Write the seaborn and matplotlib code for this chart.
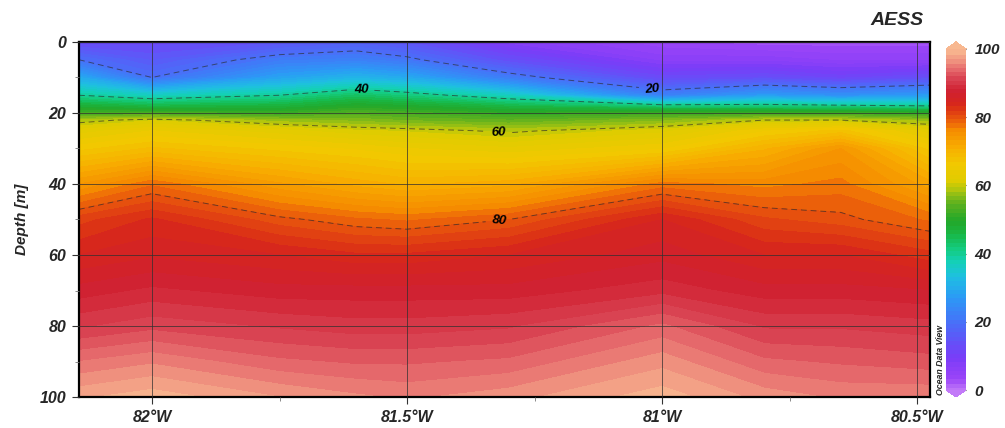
import numpy as np
import pandas as pd
import matplotlib
matplotlib.use("Agg")
import matplotlib.pyplot as plt
import seaborn as sns
from matplotlib.colors import LinearSegmentedColormap
from matplotlib.ticker import MultipleLocator, FixedLocator

# ---------------- data ----------------
lons = [-82.143, -82.0, -81.75, -81.6, -81.5, -81.3, -81.0, -80.8, -80.65, -80.475]
depths = [0, 5, 10, 15, 18, 20, 22, 25, 30, 40, 50, 60, 70, 80, 90, 100]
aess_d000 = [13, 13, 15, 17, 15, 8, 4, 3, 3, 3]
aess_d005 = [20, 16, 22, 23, 21, 14, 7, 7, 6, 6]
aess_d010 = [30, 20, 29, 32, 30, 22, 13, 14, 12, 14]
aess_d015 = [40, 37, 40, 44, 42, 37, 23, 28, 26, 28]
aess_d018 = [48, 46, 47, 50, 49, 46, 42, 42, 41, 40]
aess_d020 = [53, 53, 52, 54, 53, 51, 52, 52, 52, 51]
aess_d022 = [59, 61, 58, 57, 56, 55, 57, 60, 60, 58]
aess_d025 = [63, 65, 63, 61.5, 61, 59.5, 62, 66, 68, 63]
aess_d030 = [67, 69, 67, 66, 65, 64, 66, 71, 75, 67]
aess_d040 = [75, 78.5, 74, 72, 71, 72, 78, 77, 78, 73]
aess_d050 = [82, 84, 80.5, 79, 78.5, 80, 85, 81.5, 80.5, 78.5]
aess_d060 = [85, 86, 85, 84, 84, 85, 87, 85, 85, 83]
aess_d070 = [88, 89, 88, 88, 88, 88, 89.5, 88, 88, 87.5]
aess_d080 = [91, 92, 91, 90.5, 90.5, 91, 94, 91, 91, 90.5]
aess_d090 = [95, 96, 94, 93.5, 93.5, 94, 97, 94, 93.5, 93]
aess_d100 = [98.5, 99.5, 97.5, 96.5, 96, 97, 99.5, 97, 96, 96]
rows = [aess_d000, aess_d005, aess_d010, aess_d015, aess_d018, aess_d020,
        aess_d022, aess_d025, aess_d030, aess_d040, aess_d050, aess_d060,
        aess_d070, aess_d080, aess_d090, aess_d100]

contour_levels = [20, 40, 60, 80]
label_spots = [(-81.02, 13.8), (-81.59, 13.0), (-81.32, 25.4), (-81.32, 50.0)]
xticks = [-82.0, -81.5, -81.0, -80.5]
xticklabels = ["82°W", "81.5°W", "81°W", "80.5°W"]
yticks = [0, 20, 40, 60, 80, 100]
cbar_ticks = [0, 20, 40, 60, 80, 100]
title = "AESS"

# ---------------- table ----------------
df = pd.DataFrame(rows, index=depths, columns=lons)

# ---------------- style ----------------
sns.set_theme(style="ticks")
plt.rcParams["font.family"] = ["Liberation Sans", "DejaVu Sans"]
plt.rcParams["font.weight"] = "bold"
plt.rcParams["font.style"] = "italic"

odv = LinearSegmentedColormap.from_list("odv", [
    (0.00, "#c27af8"), (0.04, "#9a44f8"), (0.10, "#7a3cf8"), (0.16, "#5c58f8"),
    (0.22, "#407af8"), (0.28, "#2a9cf5"), (0.34, "#1ec0e0"), (0.38, "#14d0b8"),
    (0.42, "#14cc80"), (0.46, "#18b848"), (0.50, "#22a82a"), (0.55, "#58b020"),
    (0.59, "#a8c410"), (0.62, "#e0cc00"), (0.67, "#f2c800"), (0.72, "#f8ac00"),
    (0.77, "#f58a00"), (0.80, "#ea5a0c"), (0.84, "#d82818"), (0.88, "#d02030"),
    (0.92, "#d84050"), (0.95, "#e87070"), (1.00, "#f8b890")])

fig = plt.figure(figsize=(10.05, 4.28), dpi=100)
ax = fig.add_axes([0.0786, 0.0724, 0.8468, 0.8295])
cax = fig.add_axes([0.9413, 0.0724, 0.0199, 0.8295])

X, Y = np.meshgrid(df.columns.values.astype(float), df.index.values.astype(float))
Z = df.values.astype(float)

cf = ax.contourf(X, Y, Z, levels=np.linspace(0, 100, 81), cmap=odv,
                 vmin=0, vmax=100, extend="both")
cs = ax.contour(X, Y, Z, levels=contour_levels, colors="#2a2a2a",
                linewidths=0.7, linestyles=[(0, (6, 4))], alpha=0.65)
lbls = ax.clabel(cs, fmt="%d", fontsize=9.5, inline=True, inline_spacing=6,
                 manual=label_spots)
for t in lbls:
    t.set_color("black")
    t.set_fontweight("bold")
    t.set_fontstyle("italic")

ax.set_xlim(lons[0], lons[-1])
ax.set_ylim(100, 0)
ax.xaxis.set_major_locator(FixedLocator(xticks))
ax.set_xticklabels(xticklabels)
ax.xaxis.set_minor_locator(MultipleLocator(0.25))
ax.set_yticks(yticks)
ax.yaxis.set_minor_locator(MultipleLocator(10))
ax.tick_params(axis="both", which="major", direction="out", length=5, width=0.8,
               labelsize=11.5, color="#333333", pad=4)
ax.tick_params(axis="both", which="minor", direction="out", length=3, width=0.6,
               color="#777777")
ax.grid(True, which="major", color="#303030", linewidth=0.6, alpha=0.85)
ax.set_axisbelow(False)
for sp in ax.spines.values():
    sp.set_linewidth(1.6)
    sp.set_color("black")
ax.set_ylabel("Depth [m]", fontsize=11, fontweight="bold", fontstyle="italic",
              labelpad=8)
ax.set_xlabel("")

cb = fig.colorbar(cf, cax=cax, ticks=cbar_ticks, extendfrac=0.02)
cb.outline.set_visible(False)
cb.ax.tick_params(direction="in", length=4, width=0.8, labelsize=11,
                  color="#444444", right=True, left=True, pad=6)
cb.solids.set_edgecolor("face")

fig.text(0.893, 0.952, title, fontsize=14, fontweight="bold",
         fontstyle="italic", ha="center", va="center")
fig.text(0.9355, 0.078, "Ocean Data View", fontsize=6.3, fontweight="bold",
         fontstyle="italic", rotation=90, ha="center", va="bottom")

fig.savefig("out.png", dpi=100)
